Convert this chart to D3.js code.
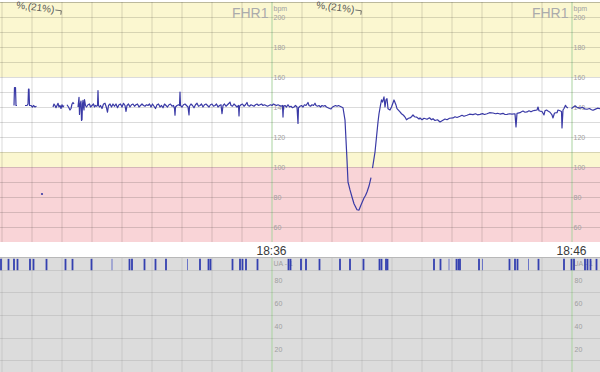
<!DOCTYPE html>
<html>
<head>
<meta charset="UTF-8">
<title>CTG</title>
<script src="https://d3js.org/d3.v7.min.js"></script>
<style>
body { margin: 0; background: #fff; }
svg { display: block; font-family: "Liberation Sans", Arial, sans-serif; }
</style>
</head>
<body>
<svg width="600" height="372"></svg>
<script>

// time is seconds after 18:27:00, heart rate in bpm
var fhrA = [[25,141],[26,153],[28,153],[29,141],[31,141]];
var fhrB = [[47,141],[51,141],[53,142],[54,152],[55,152],[56,141],[59,141],[62,140],[64,141],[67,140],[70,140.5]];
var fhrC = [[103,140],[105,142],[107,141],[109,139.5],[111,141],[113,142.5],[115,140],[117,141],[119,139],[121,141.5],[123,140],[125,141]];
var fhrD = [[131,141.5],[134,140],[137,138],[139,139],[141,142],[143,143],[145,142]];
var fhrE = [[153,140],[155,146.5],[156,135],[157,141],[159,144],[160,131],[161,131.5],[162,142],[163,144.5],[164,140],[165,138],[166,145],[168,141],[170,140],[173,141.5],[176,142],[178,140],[181,141],[184,142],[186,140],[188,141],[190,140.5],[192,141],[193,151],[194,141],[196,140],
  [198,141],[201,139],[204,142],[207,142.5],[210,139.5],[212,136.5],[214,141],[217,142],[220,140],[223,142],[226,140.5],[229,142],[232,139.5],[235,141.5],[238,142],[241,140],[244,142.5],[247,141],[249,137],[251,141],[254,142],[257,140],[260,141.5],[263,142],[266,140.5],[269,141.5],[272,142],[275,140],[278,141],[281,142],[284,141],[287,140.5],[290,141.5],[293,141],[296,142],
  [299,140],[302,142],[305,140.5],[308,139],[311,141.5],[314,142],[317,140],[320,141],[323,139.5],[326,142],[329,141],[332,140],[335,141.5],[338,142],[341,140.5],[344,141],[346,139],[347,134.5],[348,140],[351,141],[354,141.5],[356,141],[357,150],[358,141],[361,140],[364,141.5],[367,142],[370,141],[373,140],[375,134.7],[376,140.5],[379,142],[382,141],[385,139.5],[388,141.5],[391,142.5],[394,140.5],[397,141],[400,142],[403,140],[406,141.5],[409,142],[412,141],[415,140],[418,141.5],[421,142],[424,140.5],[427,141],[430,142],[433,140],[436,141],[439,141.5],[441,135.5],[443,141],[446,142],[449,140.5],[452,141.5],[455,142.5],[457,143.3],[459,141],[462,140.5],[465,142],[468,141],[471,140],[474,141],[475,134],[476,140.5],[479,141.5],[482,142],[485,140.5],[488,141.5],[491,143],[493,141],[496,140.5],[499,141.5],[502,141],[505,140.5],[508,141.5],[511,142],[514,141],[517,141.5],[520,142],[523,141],[526,141.5],[529,141],[532,140.5],[535,141],[538,141.5],[541,141],[544,142],[547,141.5],[550,141],[553,141.5],[556,141],[559,140.5],[562,141],[563,133.3],[564,140.5],[567,141],[570,140],[573,141.5],[576,140],[579,140.5],[582,139.5],[585,140],[588,141],[591,140],[593,129],[594,139.5],[597,140.5],[600,141],[603,140],[606,141.5],[609,141],[612,142.5],[613,143],[615,141],[618,140.5],[621,141.5],[624,141],[627,142.5],[629,141],[632,140.5],[635,141],[638,140],[641,141],[644,140.5],[647,141],[650,140],[653,139.5],[656,139],[659,138.7],[662,140],[665,140.5],[668,141],[671,140.5],[674,141],[677,140.5],[680,140],[683,139.5],
  [687,131.3],[689,118],[691,104.7],[693,90],[697,84.7],[701,80],[705,75.5],[708,73.5],[711,71.5],[715,71.3],[719,74.7],[722,77],[725,79.3],[728,81],[731,83.3],[735,87.3],[739,92.9]];
var fhrF = [[742,99.3],[747,110],[750,120],[753,130],[755,135.5],[758,141.3],[760,144.7],[762,143.3],[765,146.7],[767,140],[769,144.7],[771,145.5],[773,138.9],[777,138],[780,140],[785,144.7],[789,141.3],[791,138.9],[797,136.7],[800,135.5],[804,134.5],[807,133.3],[810,131.5],[814,132.5],[817,132.7],[820,133.5],[823,134.7],[826,133.5],[830,133.3],[835,132],
  [837,132.7],[841,131.5],[845,132.5],[851,131.8],[856,132.8],[860,131.5],[863,132.2],[867,131],[872,131.5],[877,130],[882,131],[887,132],[891,131.5],[896,132.5],[903,132.7],[907,133.5],[911,133],[917,133.8],[921,134.5],[925,133.8],[931,134.5],[936,135.2],[943,134.9],[948,135.5],[952,134.8],[957,135.1],[962,135.6],[966,135],[971,135.5],[976,136.2],[983,136],[988,135.5],[992,135.8],[997,135.3],[1003,135.8],[1007,135],[1011,135.1],[1016,135.5],[1021,135.3],[1027,135.5],[1029,126.7],[1031,135.8],[1037,136.2],[1040,136.8],[1043,137.3],[1047,136.5],[1051,136.7],[1055,137.5],[1059,136.8],[1063,137.5],[1067,137.8],[1071,138],[1073,140],[1075,137.5],[1077,137.3],[1081,137],[1085,134.7],[1087,137.5],[1090,138],[1093,137.3],[1097,136.5],[1101,134.7],[1103,132.7],[1106,136],[1111,136.2],[1113,138],[1117,137.5],[1120,137],[1121,126],[1123,138],[1125,139],[1128,141.1],[1130,140],[1133,139.3]];
var fhrG = [[1140,138.9],[1143,139.8],[1147,140.7],[1151,139.8],[1157,139.3],[1162,139.8],[1166,138.8],[1171,138.5],[1176,139],[1180,138.2],[1183,137.8],[1188,138.6],[1192,139.2],[1197,138.9]];
var fhrDots = [[81,82]];

// uterine activity marks at the top of the lower strip
var uaMarks = [-1,14,25,32,57,64,90,128,142,180,256,261,286,308,329,397,414,418,462,477,482,489,512,574,578,
  599,609,636,677,697,724,756,760,769,772,865,878,910,914,917,955,1016,1027,1032,1074,1125,1140,1145,1167,1172,1178,1190];
var uaMarksFaint = [221,372,895,962,1054];

var fhrTicks = [200,180,160,140,120,100,80,60];
var uaTicks = [80,60,40,20];
var timeLabels = [[540,"18:36"],[1140,"18:46"]];
var notes = [107,707];

var svg = d3.select("svg");
var width = 600;

var x = d3.scaleLinear().domain([-3, 1197]).range([0, width]);
var yF = d3.scaleLinear().domain([50, 210]).range([242, 2]);
var yU = d3.scaleLinear().domain([0, 100]).range([371.7, 258.3]);

// FHR background bands
var bands = [[160,210,"#fbf7d0"],[110,160,"#ffffff"],[100,110,"#fbf7d0"],[50,100,"#f9d4d7"]];
svg.selectAll(".band").data(bands).enter().append("rect")
  .attr("x", 0).attr("width", width)
  .attr("y", function(d) { return yF(d[1]); })
  .attr("height", function(d) { return yF(d[0]) - yF(d[1]); })
  .attr("fill", function(d) { return d[2]; });

// UA background
svg.append("rect").attr("x", 0).attr("width", width)
  .attr("y", yU(100) - 1.3).attr("height", 372 - yU(100) + 1.3)
  .attr("fill", "#dcdcdc");

// grid
var minutes = d3.range(0, 1200, 60);
svg.selectAll(".vf").data(minutes).enter().append("line")
  .attr("x1", function(d) { return x(d) + 0.5; }).attr("x2", function(d) { return x(d) + 0.5; })
  .attr("y1", yF(210)).attr("y2", yF(50))
  .attr("stroke", function(d) { return (d == 540 || d == 1140) ? "#a9d3a0" : "rgba(0,0,0,0.14)"; });
svg.selectAll(".hf").data(d3.range(60, 211, 10)).enter().append("line")
  .attr("x1", 0).attr("x2", width)
  .attr("y1", function(d) { return Math.round(yF(d)) + 0.5; })
  .attr("y2", function(d) { return Math.round(yF(d)) + 0.5; })
  .attr("stroke", function(d) { return d == 210 ? "rgba(0,0,0,0.25)" : "rgba(0,0,0,0.14)"; });

svg.selectAll(".vu").data(minutes).enter().append("line")
  .attr("x1", function(d) { return x(d) + 0.5; }).attr("x2", function(d) { return x(d) + 0.5; })
  .attr("y1", yU(100) - 1).attr("y2", 372)
  .attr("stroke", function(d) { return (d == 540 || d == 1140) ? "#a9d3a0" : "rgba(0,0,0,0.09)"; });
svg.selectAll(".hu").data([90,70,50,30,10]).enter().append("line")
  .attr("x1", 0).attr("x2", width)
  .attr("y1", function(d) { return Math.round(yU(d)) + 0.5; })
  .attr("y2", function(d) { return Math.round(yU(d)) + 0.5; })
  .attr("stroke", "rgba(0,0,0,0.09)");
svg.append("line").attr("x1", 0).attr("x2", width)
  .attr("y1", yU(100) - 0.8).attr("y2", yU(100) - 0.8)
  .attr("stroke", "#b8b8b8");

// axis labels next to each time marker
timeLabels.forEach(function(tl) {
  var gx = x(tl[0]);
  svg.selectAll(null).data(fhrTicks).enter().append("text")
    .attr("x", gx + 2).attr("y", function(d) { return yF(d) + 2.5; })
    .attr("font-size", "7px").attr("fill", "#a0a0a0")
    .text(function(d) { return d; });
  svg.append("text").attr("x", gx + 2).attr("y", 11)
    .attr("font-size", "7px").attr("fill", "#a0a0a0").text("bpm");
  svg.append("text").attr("x", gx - 3).attr("y", 18)
    .attr("text-anchor", "end").attr("font-size", "14px").attr("fill", "#ababab").text("FHR1");
  svg.selectAll(null).data(uaTicks).enter().append("text")
    .attr("x", gx + 3).attr("y", function(d) { return yU(d) + 2.5; })
    .attr("font-size", "7px").attr("fill", "#a0a0a0")
    .text(function(d) { return d; });
  svg.append("text").attr("x", gx + 2).attr("y", 266)
    .attr("font-size", "7px").attr("fill", "#a0a0a0").text("UA - 1");
  svg.append("text").attr("x", gx).attr("y", 254.5)
    .attr("text-anchor", "middle").attr("font-size", "12px").attr("fill", "#3a3a3a").text(tl[1]);
});

// UA marks
svg.selectAll(".ua").data(uaMarks).enter().append("line")
  .attr("x1", function(d) { return x(d); }).attr("x2", function(d) { return x(d); })
  .attr("y1", yU(99.5)).attr("y2", yU(89.5))
  .attr("stroke", "#3440b0").attr("stroke-width", 1.8);
svg.selectAll(".uaf").data(uaMarksFaint).enter().append("line")
  .attr("x1", function(d) { return x(d); }).attr("x2", function(d) { return x(d); })
  .attr("y1", yU(99.5)).attr("y2", yU(89.5))
  .attr("stroke", "#6a74c8").attr("stroke-width", 1);

// FHR trace
var line = d3.line()
  .x(function(d) { return x(d[0]); })
  .y(function(d) { return yF(d[1]); });
svg.selectAll(".fhr").data([fhrA, fhrB, fhrC, fhrD, fhrE, fhrF, fhrG]).enter().append("path")
  .attr("d", line)
  .attr("fill", "none")
  .attr("stroke", "#3a3aa6")
  .attr("stroke-width", 1.2)
  .attr("stroke-linejoin", "round");
svg.selectAll(".dot").data(fhrDots).enter().append("circle")
  .attr("cx", function(d) { return x(d[0]); })
  .attr("cy", function(d) { return yF(d[1]); })
  .attr("r", 1.1).attr("fill", "#3a3aa6");

// tilted notes at the top edge
var note = svg.selectAll(".note").data(notes).enter().append("g")
  .attr("transform", function(d) { return "translate(" + x(d) + ",13) rotate(7)"; });
note.append("text").attr("x", -1).attr("y", 0)
  .attr("text-anchor", "end").attr("font-size", "10px").attr("fill", "#555")
  .text("%,(21%)");
note.append("path").attr("d", "M0,-3 L6,-3 L6,1")
  .attr("fill", "none").attr("stroke", "#555").attr("stroke-width", 0.8);

</script>
</body>
</html>
